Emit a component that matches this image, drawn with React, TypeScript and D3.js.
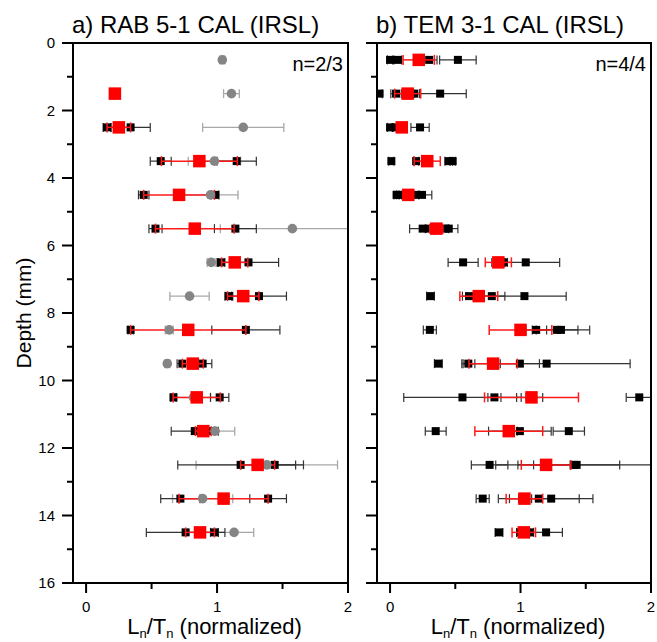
import React from "react";
import * as d3 from "d3";

// Depth (mm) of each slice
const depths = [0.5, 1.5, 2.5, 3.5, 4.5, 5.5, 6.5, 7.5, 8.5, 9.5, 10.5, 11.5, 12.5, 13.5, 14.5];

// Panel a) RAB 5-1 CAL (IRSL)
const aRejected = [1.04, 1.11, 1.2, 0.98, 0.95, 1.575, 0.955, 0.79, 0.635, 0.62, 0.82, 0.985, 1.38, 0.89, 1.13];
const aRejectedErr = [0.02, 0.06, 0.31, 0.2, 0.21, 0.55, 0.03, 0.15, 0.03, 0.02, 0.13, 0.15, 0.54, 0.23, 0.15];
const aAliquot1 = [null, null, 0.16, 0.57, 0.44, 0.53, 1.03, 1.09, 0.34, 0.735, 0.667, 0.83, 1.18, 0.72, 0.76];
const aAliquot1Err = [0, 0, 0.03, 0.08, 0.04, 0.05, 0.03, 0.03, 0.02, 0.04, 0.02, 0.18, 0.48, 0.15, 0.3];
const aAliquot2 = [null, null, 0.34, 1.15, 0.985, 1.14, 1.24, 1.32, 1.22, 0.89, 1.02, 0.95, 1.44, 1.39, 0.98];
const aAliquot2Err = [0, 0, 0.15, 0.15, 0.03, 0.16, 0.23, 0.21, 0.26, 0.07, 0.07, 0.03, 0.16, 0.14, 0.03];
const aMean = [null, 0.22, 0.25, 0.865, 0.71, 0.83, 1.135, 1.2, 0.78, 0.815, 0.845, 0.895, 1.31, 1.05, 0.87];
const aMeanErr = [0, 0.04, 0.09, 0.29, 0.27, 0.3, 0.1, 0.12, 0.44, 0.08, 0.18, 0.06, 0.13, 0.34, 0.11];

// Panel b) TEM 3-1 CAL (IRSL)
const bAliquot1 = [0.0, -0.08, 0.0, 0.01, 0.05, 0.25, 0.56, 0.31, 0.305, 0.37, 0.555, 0.35, 0.763, 0.71, 0.835];
const bAliquot1Err = [0.02, 0.02, 0.02, 0.02, 0.02, 0.1, 0.115, 0.03, 0.05, 0.03, 0.45, 0.08, 0.14, 0.05, 0.03];
const bAliquot2 = [0.06, 0.046, 0.04, 0.2, 0.07, 0.3, 0.85, 0.605, 1.12, 0.6, 0.8, 0.925, 1.18, 1.035, 1.0];
const bAliquot2Err = [0.03, 0.04, 0.02, 0.02, 0.02, 0.03, 0.03, 0.05, 0.08, 0.05, 0.05, 0.05, 0.2, 0.05, 0.03];
const bAliquot3 = [0.3, 0.185, 0.09, 0.45, 0.2, 0.42, 0.87, 0.78, 1.28, 0.995, 1.07, 0.995, 1.41, 1.14, 1.07];
const bAliquot3Err = [0.06, 0.04, 0.02, 0.03, 0.02, 0.03, 0.03, 0.1, 0.16, 0.15, 0.1, 0.24, 0.6, 0.31, 0.03];
const bAliquot4 = [0.52, 0.384, 0.23, 0.48, 0.245, 0.45, 1.04, 1.03, 1.31, 1.2, 1.91, 1.37, 1.43, 1.235, 1.196];
const bAliquot4Err = [0.14, 0.2, 0.07, 0.02, 0.075, 0.07, 0.26, 0.32, 0.22, 0.64, 0.1, 0.12, 0.33, 0.32, 0.125];
const bMean = [0.22, 0.135, 0.09, 0.285, 0.14, 0.355, 0.83, 0.68, 1.0, 0.79, 1.084, 0.91, 1.196, 1.03, 1.025];
const bMeanErr = [0.12, 0.1, 0.02, 0.1, 0.02, 0.05, 0.1, 0.145, 0.24, 0.185, 0.36, 0.26, 0.19, 0.14, 0.09];

const xMajor = [0, 1, 2];
const xMinor = [0.5, 1.5];
const yMajor = [0, 2, 4, 6, 8, 10, 12, 14, 16];
const yMinor = [1, 3, 5, 7, 9, 11, 13, 15];

const FONT = "'Liberation Sans', Arial, sans-serif";
const TOP = 43;
const BOTTOM = 583;

type Series = { values: (number | null)[]; errs: number[] };

const yScale = d3.scaleLinear().domain([0, 16]).range([TOP, BOTTOM]);

function ErrorBars({ s, x, color, width, cap }: { s: Series; x: d3.ScaleLinear<number, number>; color: string; width: number; cap: number }) {
  return (
    <g stroke={color} strokeWidth={width} fill="none">
      {s.values.map((v, i) => {
        if (v === null) return null;
        const y = yScale(depths[i]);
        const x0 = x(v - s.errs[i]);
        const x1 = x(v + s.errs[i]);
        return (
          <g key={i}>
            <line x1={x0} x2={x1} y1={y} y2={y} />
            <line x1={x0} x2={x0} y1={y - cap} y2={y + cap} />
            <line x1={x1} x2={x1} y1={y - cap} y2={y + cap} />
          </g>
        );
      })}
    </g>
  );
}

function Squares({ s, x, color, size }: { s: Series; x: d3.ScaleLinear<number, number>; color: string; size: number }) {
  return (
    <g fill={color}>
      {s.values.map((v, i) =>
        v === null ? null : (
          <rect key={i} x={x(v) - size / 2} y={yScale(depths[i]) - size / 2} width={size} height={size} />
        )
      )}
    </g>
  );
}

function Circles({ s, x, color, r }: { s: Series; x: d3.ScaleLinear<number, number>; color: string; r: number }) {
  return (
    <g fill={color}>
      {s.values.map((v, i) => (v === null ? null : <circle key={i} cx={x(v)} cy={yScale(depths[i])} r={r} />))}
    </g>
  );
}

function Panel({
  id, left, right, title, nText, showYLabels, rejected, aliquots, mean,
}: {
  id: string; left: number; right: number; title: string; nText: string; showYLabels: boolean;
  rejected: Series | null; aliquots: Series[]; mean: Series;
}) {
  const x = d3.scaleLinear().domain([-0.1, 2]).range([left, right]);
  return (
    <g>
      <defs>
        <clipPath id={id}>
          <rect x={left} y={TOP} width={right - left} height={BOTTOM - TOP} />
        </clipPath>
      </defs>
      <text x={left - 1} y={33} fontFamily={FONT} fontSize={24} fill="#000">{title}</text>
      <g clipPath={`url(#${id})`}>
        {rejected && <ErrorBars s={rejected} x={x} color="#a8a8a8" width={1.3} cap={4.5} />}
        {aliquots.map((a, k) => <ErrorBars key={k} s={a} x={x} color="#333" width={1.2} cap={4.5} />)}
        {aliquots.map((a, k) => <Squares key={k} s={a} x={x} color="#000" size={8} />)}
        <ErrorBars s={mean} x={x} color="#ff1a1a" width={1.5} cap={5} />
        {rejected && <Circles s={rejected} x={x} color="#858585" r={4.8} />}
        <Squares s={mean} x={x} color="#ff0000" size={12.5} />
      </g>
      <text x={right - 5} y={71} textAnchor="end" fontFamily={FONT} fontSize={20} fill="#000">{nText}</text>
      <rect x={left} y={TOP} width={right - left} height={BOTTOM - TOP} fill="none" stroke="#000" strokeWidth={2} />
      <g stroke="#000" strokeWidth={2}>
        {yMajor.map((t) => <line key={"ym" + t} x1={left - 11} x2={left} y1={yScale(t)} y2={yScale(t)} />)}
        {yMinor.map((t) => <line key={"yn" + t} x1={left - 6} x2={left} y1={yScale(t)} y2={yScale(t)} />)}
        {xMajor.map((t) => <line key={"xm" + t} x1={x(t)} x2={x(t)} y1={BOTTOM} y2={BOTTOM + 10} />)}
        {xMinor.map((t) => <line key={"xn" + t} x1={x(t)} x2={x(t)} y1={BOTTOM} y2={BOTTOM + 6} />)}
      </g>
      {showYLabels &&
        yMajor.map((t) => (
          <text key={"yl" + t} x={left - 18} y={yScale(t) + 5} textAnchor="end" fontFamily={FONT} fontSize={15} fill="#000">{t}</text>
        ))}
      {xMajor.map((t) => (
        <text key={"xl" + t} x={x(t)} y={612} textAnchor="middle" fontFamily={FONT} fontSize={15} fill="#000">{t}</text>
      ))}
      <text x={(left + right) / 2 + 4} y={634} textAnchor="middle" fontFamily={FONT} fontSize={22} fill="#000">
        L<tspan fontSize={13} dy={4}>n</tspan><tspan dy={-4}>/T</tspan><tspan fontSize={13} dy={4}>n</tspan><tspan dy={-4}> (normalized)</tspan>
      </text>
    </g>
  );
}

export default function App() {
  const aRej: Series = { values: aRejected, errs: aRejectedErr };
  const aAl: Series[] = [
    { values: aAliquot1, errs: aAliquot1Err },
    { values: aAliquot2, errs: aAliquot2Err },
  ];
  const aM: Series = { values: aMean, errs: aMeanErr };
  const bAl: Series[] = [
    { values: bAliquot1, errs: bAliquot1Err },
    { values: bAliquot2, errs: bAliquot2Err },
    { values: bAliquot3, errs: bAliquot3Err },
    { values: bAliquot4, errs: bAliquot4Err },
  ];
  const bM: Series = { values: bMean, errs: bMeanErr };
  return (
    <svg width={657} height={642} style={{ position: "absolute", left: 0, top: 0, background: "#fff" }}>
      <rect width={657} height={642} fill="#fff" />
      <text
        transform={`translate(31, ${(TOP + BOTTOM) / 2}) rotate(-90)`}
        textAnchor="middle"
        fontFamily={FONT}
        fontSize={21}
        fill="#000"
      >
        Depth (mm)
      </text>
      <Panel id="clipA" left={73} right={348} title="a) RAB 5-1 CAL (IRSL)" nText="n=2/3" showYLabels={true} rejected={aRej} aliquots={aAl} mean={aM} />
      <Panel id="clipB" left={377} right={651} title="b) TEM 3-1 CAL (IRSL)" nText="n=4/4" showYLabels={false} rejected={null} aliquots={bAl} mean={bM} />
    </svg>
  );
}
